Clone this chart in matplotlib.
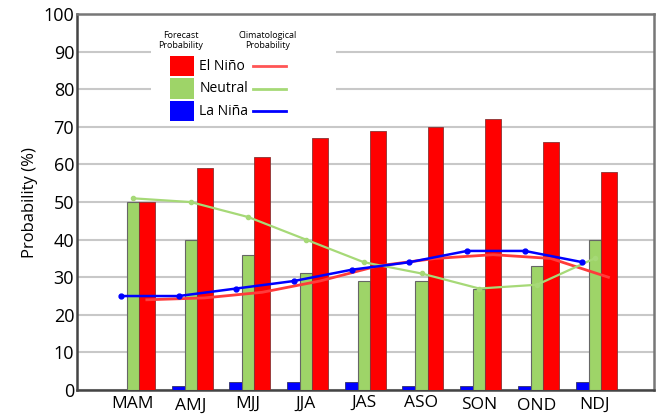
import matplotlib.pyplot as plt
from matplotlib.patches import Rectangle
from matplotlib.lines import Line2D
import matplotlib.transforms as mtransforms
import numpy as np

seasons = ['MAM', 'AMJ', 'MJJ', 'JJA', 'JAS', 'ASO', 'SON', 'OND', 'NDJ']
nino = [50, 59, 62, 67, 69, 70, 72, 66, 58]
neutral = [50, 40, 36, 31, 29, 29, 27, 33, 40]
nina = [0, 1, 2, 2, 2, 1, 1, 1, 2]
clim_nino = [24, 24.5, 26, 29, 33, 35, 36, 35, 30]
clim_neutral = [51, 50, 46, 40, 34, 31, 27, 28, 35]
clim_nina = [25, 25, 27, 29, 32, 34, 37, 37, 34]
label_dy = [1, -1, 1, 1, 2, 2, 0, -1, 0]

red = '#ff0000'
green = '#9ed468'
blue = '#0000ff'

plt.rcParams['font.family'] = ['Open Sans', 'DejaVu Sans']

fig = plt.figure(figsize=(6.64, 4.16), dpi=100)
ax = fig.add_axes([0.116, 0.0625, 0.869, 0.9035])

x = np.arange(1, len(seasons) + 1)
ax.bar(x - 0.36, nina, width=0.225, align='edge', color=blue, edgecolor='#333366', lw=0.6, zorder=3)
ax.bar(x - 0.135, neutral, width=0.21, align='edge', color=green, edgecolor='#666666', lw=0.8, zorder=3)
ax.bar(x + 0.075, nino, width=0.275, align='edge', color=red, edgecolor='#883333', lw=0.6, zorder=3)

ax.plot(x + 0.21, clim_nino, color='#ff3b3b', lw=2, zorder=4)
ax.plot(x - 0.03, clim_neutral, color='#a6d977', lw=1.6, marker='o', ms=3, zorder=4)
ax.plot(x - 0.24, clim_nina, color=blue, lw=1.8, marker='o', ms=3.5, zorder=5)

ax.set_xlim(0, 10)
ax.set_ylim(0, 100)
ax.set_yticks(range(0, 101, 10))
ax.tick_params(axis='y', length=0, labelsize=13, pad=2)
ax.set_xticks([])
ax.yaxis.grid(True, color='#c8c8c8', lw=1.5, zorder=0)
ax.set_axisbelow(True)
ax.set_ylabel('Probability (%)', fontsize=12, labelpad=4)

for side in ['top', 'right']:
    ax.spines[side].set_color('#777777')
    ax.spines[side].set_linewidth(1.8)
for side in ['left', 'bottom']:
    ax.spines[side].set_color('#444444')
    ax.spines[side].set_linewidth(1.8)

# season labels with slight vertical jitter like the original
trans = mtransforms.blended_transform_factory(ax.transData, ax.transAxes)
for xi, s, dy in zip(x, seasons, label_dy):
    t = trans + mtransforms.ScaledTranslation(-2 / 100, dy / 100, fig.dpi_scale_trans)
    ax.text(xi, -0.04, s, transform=t, ha='center', va='center', fontsize=12.5)

# hand-made legend
ax.add_patch(Rectangle((0.128, 0.73), 0.32, 0.24, transform=ax.transAxes,
                       facecolor='white', edgecolor='none', zorder=6))
ax.text(0.18, 0.93, 'Forecast\nProbability', transform=ax.transAxes, ha='center',
        va='center', fontsize=6.5, linespacing=1.1, zorder=7)
ax.text(0.33, 0.93, 'Climatological\nProbability', transform=ax.transAxes, ha='center',
        va='center', fontsize=6.5, linespacing=1.1, zorder=7)
names = ['El Niño', 'Neutral', 'La Niña']
cols = [red, green, blue]
lcols = ['#ff5555', '#a6d977', blue]
for i, (n, c, lc) in enumerate(zip(names, cols, lcols)):
    yy = 0.862 - i * 0.06
    ax.add_patch(Rectangle((0.161, yy - 0.027), 0.041, 0.054, transform=ax.transAxes,
                           facecolor=c, edgecolor='none', zorder=7))
    ax.text(0.212, yy, n, transform=ax.transAxes, va='center', fontsize=10, zorder=7)
    ax.add_line(Line2D([0.305, 0.363], [yy, yy], transform=ax.transAxes,
                       color=lc, lw=2, zorder=7))

fig.savefig('out.png', dpi=100)
